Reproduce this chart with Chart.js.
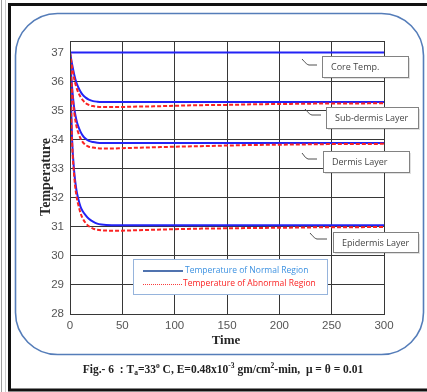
<!DOCTYPE html>
<html>
<head>
<meta charset="utf-8">
<script src="https://cdn.jsdelivr.net/npm/chart.js@4.4.0/dist/chart.umd.min.js"></script>
<style>
  html, body { margin: 0; padding: 0; background: #fff; }
  #wrap { width: 427px; height: 392px; position: relative; }
</style>
</head>
<body>
<div id="wrap"><canvas id="fig6" width="427" height="392"></canvas></div>
<script>
// time axis (minutes) and temperature of each layer
const time        = [0, 1, 2, 4, 6, 8, 10, 12, 15, 18, 22, 26, 30, 40, 50, 60, 80, 100, 125, 150, 175, 200, 225, 250, 275, 300];
const coreTemp    = [37, 37, 37, 37, 37, 37, 37, 37, 37, 37, 37, 37, 37, 37, 37, 37, 37, 37, 37, 37, 37, 37, 37, 37, 37, 37];
const subNormal   = [37, 36.8, 36.6, 36.25, 35.98, 35.8, 35.66, 35.55, 35.45, 35.38, 35.33, 35.31, 35.3, 35.3, 35.3, 35.3, 35.3, 35.3, 35.3, 35.3, 35.3, 35.3, 35.3, 35.3, 35.3, 35.3];
const subAbnormal = [37, 36.75, 36.5, 36.1, 35.82, 35.62, 35.48, 35.37, 35.26, 35.2, 35.16, 35.14, 35.13, 35.13, 35.13, 35.14, 35.15, 35.17, 35.19, 35.2, 35.22, 35.23, 35.24, 35.25, 35.25, 35.26];
const dermNormal  = [37, 36.3, 35.8, 35.1, 34.7, 34.45, 34.28, 34.15, 34.03, 33.96, 33.92, 33.9, 33.89, 33.89, 33.89, 33.89, 33.89, 33.89, 33.89, 33.89, 33.89, 33.89, 33.89, 33.89, 33.89, 33.89];
const dermAbnormal= [37, 36.25, 35.7, 34.95, 34.5, 34.23, 34.05, 33.93, 33.82, 33.76, 33.73, 33.71, 33.7, 33.7, 33.71, 33.72, 33.74, 33.76, 33.78, 33.8, 33.82, 33.83, 33.84, 33.85, 33.85, 33.86];
const epiNormal   = [37, 35.2, 34.0, 32.9, 32.3, 31.95, 31.7, 31.55, 31.4, 31.28, 31.18, 31.11, 31.08, 31.06, 31.06, 31.06, 31.06, 31.06, 31.06, 31.06, 31.06, 31.06, 31.06, 31.06, 31.06, 31.06];
const epiAbnormal = [37, 35.1, 33.9, 32.75, 32.1, 31.75, 31.48, 31.3, 31.13, 31.02, 30.94, 30.9, 30.88, 30.87, 30.87, 30.88, 30.9, 30.92, 30.94, 30.95, 30.96, 30.97, 30.98, 30.99, 30.99, 31.0];

const xTicks = [0, 50, 100, 150, 200, 250, 300];
const yTicks = [28, 29, 30, 31, 32, 33, 34, 35, 36, 37];
const layerNames = ["Core Temp.", "Sub-dermis Layer", "Dermis Layer", "Epidermis Layer"];
const legendNames = ["Temperature of Normal Region", "Temperature of Abnormal Region"];

const pts = ys => time.map((t, i) => ({ x: t, y: ys[i] }));

const normal = ys => ({
  data: pts(ys), borderColor: "rgb(35,35,245)", borderWidth: 2,
  pointRadius: 0, fill: false, cubicInterpolationMode: "monotone"
});
const abnormal = ys => ({
  data: pts(ys), borderColor: "rgb(250,35,35)", borderWidth: 2, borderDash: [4, 2],
  pointRadius: 0, fill: false, cubicInterpolationMode: "monotone"
});

// frame, rounded box, annotations, legend, titles, caption
const decor = {
  id: "decor",
  beforeDraw(chart) {
    const c = chart.ctx;
    c.save();
    c.fillStyle = "#fff";
    c.fillRect(0, 0, 427, 392);
    // outer page frame
    c.strokeStyle = "rgb(160,160,160)"; c.lineWidth = 1;
    c.beginPath(); c.moveTo(1.5, 0); c.lineTo(1.5, 392); c.stroke();
    c.strokeStyle = "rgb(205,205,205)";
    c.beginPath(); c.moveTo(5.5, 0); c.lineTo(5.5, 392); c.stroke();
    c.strokeStyle = "#111"; c.lineWidth = 3;
    c.beginPath();
    c.moveTo(432, 4.5); c.lineTo(9.5, 4.5); c.lineTo(9.5, 390); c.lineTo(432, 390);
    c.stroke();
    // rounded box
    c.strokeStyle = "rgb(85,125,185)"; c.lineWidth = 1.6;
    c.beginPath();
    c.roundRect(15.5, 13.5, 408, 341, 42);
    c.stroke();
    c.restore();
  },
  afterDraw(chart) {
    const c = chart.ctx, a = chart.chartArea;
    c.save();
    // plot box
    c.strokeStyle = "rgb(55,55,55)"; c.lineWidth = 1;
    c.strokeRect(Math.round(a.left) + 0.5, Math.round(a.top) + 0.5,
                 Math.round(a.right - a.left), Math.round(a.bottom - a.top));

    // callout boxes
    const boxes = [
      { x: 322, y: 56, w: 86, h: 21, lead: [[302, 59], [309, 65], [317, 65]] },
      { x: 326, y: 107, w: 92, h: 21, lead: [[305, 109], [312, 115], [321, 115]] },
      { x: 323, y: 151, w: 86, h: 21, lead: [[302, 153], [308, 159], [317, 159]] },
      { x: 333, y: 232, w: 85, h: 20, lead: [[310, 233], [317, 239], [327, 239]] }
    ];
    c.font = "9px 'Open Sans', 'Noto Sans', sans-serif";
    c.textBaseline = "middle";
    boxes.forEach((b, i) => {
      c.strokeStyle = "rgb(80,80,80)"; c.lineWidth = 1;
      c.beginPath();
      c.moveTo(b.lead[0][0], b.lead[0][1]);
      c.quadraticCurveTo(b.lead[1][0] - 2, b.lead[1][1], b.lead[1][0], b.lead[1][1]);
      c.lineTo(b.lead[2][0], b.lead[2][1]);
      c.stroke();
      c.fillStyle = "rgba(0,0,0,0.12)";
      c.fillRect(b.x + 2, b.y + 2, b.w, b.h);
      c.fillStyle = "#fff";
      c.fillRect(b.x, b.y, b.w, b.h);
      c.strokeStyle = "rgb(130,130,130)";
      c.strokeRect(b.x + 0.5, b.y + 0.5, b.w, b.h);
      c.fillStyle = "rgb(70,70,70)";
      c.textAlign = "left";
      c.fillText(layerNames[i], b.x + 9, b.y + b.h / 2 + 1);
    });

    // legend
    c.fillStyle = "#fff";
    c.fillRect(133, 259, 194, 35);
    c.strokeStyle = "rgb(150,180,220)"; c.lineWidth = 1;
    c.strokeRect(133.5, 259.5, 194, 35);
    c.strokeStyle = "rgb(80,115,175)"; c.lineWidth = 2;
    c.beginPath(); c.moveTo(143, 271); c.lineTo(183, 271); c.stroke();
    c.strokeStyle = "rgb(250,60,60)"; c.lineWidth = 1; c.setLineDash([1, 1]);
    c.beginPath(); c.moveTo(143, 284.5); c.lineTo(183, 284.5); c.stroke();
    c.setLineDash([]);
    c.font = "8.5px 'Open Sans', 'Noto Sans', sans-serif";
    c.textAlign = "left";
    c.fillStyle = "rgb(60,145,225)";
    c.fillText(legendNames[0], 185, 271);
    c.fillStyle = "rgb(250,35,35)";
    c.fillText(legendNames[1], 183, 284);

    // axis titles
    c.fillStyle = "rgb(40,40,40)";
    c.font = "bold 13px 'Liberation Serif', serif";
    c.textAlign = "center";
    c.fillText("Time", 226, 341);
    c.save();
    c.translate(46, 177);
    c.rotate(-Math.PI / 2);
    c.font = "bold 14px 'Liberation Serif', serif";
    c.fillText("Temperature", 0, 0);
    c.restore();

    // caption
    const parts = [
      ["Fig.- 6  : T", 0, 11.5], ["a", 2, 7.5], ["=33", 0, 11.5], ["o", -5, 7.5],
      [" C, E=0.48x10", 0, 11.5], ["-3", -5, 7.5], [" gm/cm", 0, 11.5], ["2", -5, 7.5],
      ["-min,  \u03bc = \u03b8 = 0.01", 0, 11.5]
    ];
    const fnt = s => "bold " + s + "px 'Liberation Serif', serif";
    let total = 0;
    parts.forEach(p => { c.font = fnt(p[2]); total += c.measureText(p[0]).width; });
    let x = 223 - total / 2;
    c.textAlign = "left"; c.textBaseline = "alphabetic";
    c.fillStyle = "#222";
    parts.forEach(p => {
      c.font = fnt(p[2]);
      c.fillText(p[0], x, 373 + p[1]);
      x += c.measureText(p[0]).width;
    });
    c.restore();
  }
};

new Chart("fig6", {
  type: "line",
  data: {
    datasets: [
      abnormal(subAbnormal), abnormal(dermAbnormal), abnormal(epiAbnormal),
      normal(coreTemp), normal(subNormal), normal(dermNormal), normal(epiNormal)
    ]
  },
  options: {
    responsive: false,
    animation: false,
    layout: { padding: { left: 0, right: 43, top: 41, bottom: 0 } },
    plugins: { legend: { display: false }, tooltip: { enabled: false } },
    scales: {
      x: {
        type: "linear", min: 0, max: 300,
        afterBuildTicks: s => { s.ticks = xTicks.map(v => ({ value: v })); },
        afterFit: s => { s.height = 78; },
        grid: { color: "rgb(55,55,55)", drawTicks: false },
        border: { display: false },
        ticks: { padding: 5, color: "rgb(85,85,85)", maxRotation: 0,
                 font: { family: "'Liberation Sans Narrow', 'Liberation Sans', sans-serif", size: 11.5 } }
      },
      y: {
        min: 28, max: 37.4,
        afterBuildTicks: s => { s.ticks = yTicks.map(v => ({ value: v })); },
        afterFit: s => { s.width = 70; },
        grid: { color: "rgb(55,55,55)", drawTicks: false },
        border: { display: false },
        ticks: { padding: 6, color: "rgb(85,85,85)",
                 font: { family: "'Liberation Sans Narrow', 'Liberation Sans', sans-serif", size: 11.5 } }
      }
    }
  },
  plugins: [decor]
});
</script>
</body>
</html>
